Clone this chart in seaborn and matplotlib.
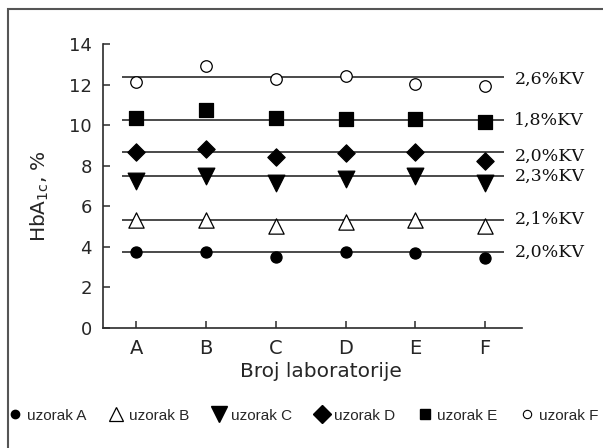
import matplotlib
matplotlib.use("Agg")
import matplotlib.pyplot as plt
from matplotlib.lines import Line2D
from matplotlib.patches import Rectangle
import seaborn as sns
import pandas as pd

labs = ["A", "B", "C", "D", "E", "F"]
uzorak_A = [3.75, 3.73, 3.49, 3.72, 3.68, 3.43]
uzorak_B = [5.31, 5.31, 5.03, 5.20, 5.31, 5.03]
uzorak_C = [7.23, 7.50, 7.15, 7.35, 7.48, 7.12]
uzorak_D = [8.65, 8.81, 8.44, 8.62, 8.68, 8.24]
uzorak_E = [10.36, 10.74, 10.33, 10.31, 10.31, 10.15]
uzorak_F = [12.13, 12.93, 12.27, 12.44, 12.05, 11.95]
mean_lines = [3.74, 5.31, 7.47, 8.67, 10.25, 12.39]
kv_labels = ["2,0%KV", "2,1%KV", "2,3%KV", "2,0%KV", "1,8%KV", "2,6%KV"]
series_names = ["uzorak A", "uzorak B", "uzorak C", "uzorak D", "uzorak E", "uzorak F"]
yticks = [0, 2, 4, 6, 8, 10, 12, 14]

sns.set_style("ticks")
plt.rcParams["font.family"] = ["DejaVu Sans"]

fig = plt.figure(figsize=(6.03, 4.48), dpi=100)
ax = fig.add_axes([103/603, 1-327.7/448, 419/603, (327.7-44)/448])

series = [uzorak_A, uzorak_B, uzorak_C, uzorak_D, uzorak_E, uzorak_F]
# marker, size(pt), facecolor
styles = [("o", 8, "black"), ("^", 11, "white"), ("v", 12, "black"),
          ("D", 8.8, "black"), ("s", 10, "black"), ("o", 8.3, "white")]
lcol = "#2b2b2b"

ax.hlines(mean_lines, -0.21, 5.27, color=lcol, linewidth=1.2, zorder=1)

for vals, (m, ms, fc) in zip(series, styles):
    df = pd.DataFrame({"lab": labs, "v": vals})
    sns.scatterplot(data=df, x="lab", y="v", marker=m, s=ms**2, color=fc,
                    edgecolor="black", linewidth=0.9, ax=ax, zorder=3, legend=False)

offsets = [-0.6, 0.6, 0.2, -3.0, -0.4, -1.6]
for mv, lab, off in zip(mean_lines, kv_labels, offsets):
    ax.annotate(lab, (5.42, mv), xytext=(0, off), textcoords="offset points",
                va="center", ha="left", fontsize=12.5, family="DejaVu Serif",
                color="#111111", annotation_clip=False)

ax.set_xlim(-0.48, 5.53)
ax.set_ylim(0, 14)
ax.set_yticks(yticks)
ax.set_xticks(range(len(labs)))
ax.set_xticklabels(labs)
for s in ["top", "right"]:
    ax.spines[s].set_visible(False)
for s in ["left", "bottom"]:
    ax.spines[s].set_color(lcol)
    ax.spines[s].set_linewidth(1.2)
ax.tick_params(axis="both", direction="in", length=5, width=1.1, color=lcol)
ax.tick_params(axis="y", labelsize=13, pad=8)
ax.tick_params(axis="x", labelsize=14, pad=8)

ax.set_xlabel("Broj laboratorije", fontsize=14.5)
ax.xaxis.set_label_coords(0.52, -0.121)
ax.set_ylabel("HbA$_\\mathregular{1c}$, %", fontsize=14.5)
ax.yaxis.set_label_coords(-0.125, 0.464)

handles = [
    Line2D([], [], ls="", marker="o", ms=6, mfc="black", mec="black"),
    Line2D([], [], ls="", marker="^", ms=10, mfc="white", mec="black", mew=0.9),
    Line2D([], [], ls="", marker="v", ms=11, mfc="black", mec="black"),
    Line2D([], [], ls="", marker="D", ms=9, mfc="black", mec="black"),
    Line2D([], [], ls="", marker="s", ms=7.5, mfc="black", mec="black"),
    Line2D([], [], ls="", marker="o", ms=6, mfc="white", mec="black", mew=0.8),
]
fig.legend(handles, series_names, ncol=6, loc="center",
           bbox_to_anchor=(303/603, 1-415.7/448), bbox_transform=fig.transFigure,
           frameon=False, handlelength=1.0, handletextpad=0.3, columnspacing=1.45,
           prop={"family": "Liberation Sans", "size": 11}, borderpad=0, borderaxespad=0)

fig.patches.append(Rectangle((8/603, -0.2), 1.5, 1.2 - 9/448, transform=fig.transFigure,
                             fill=False, edgecolor="#555555", linewidth=1.5))

fig.savefig("out.png", dpi=100)
